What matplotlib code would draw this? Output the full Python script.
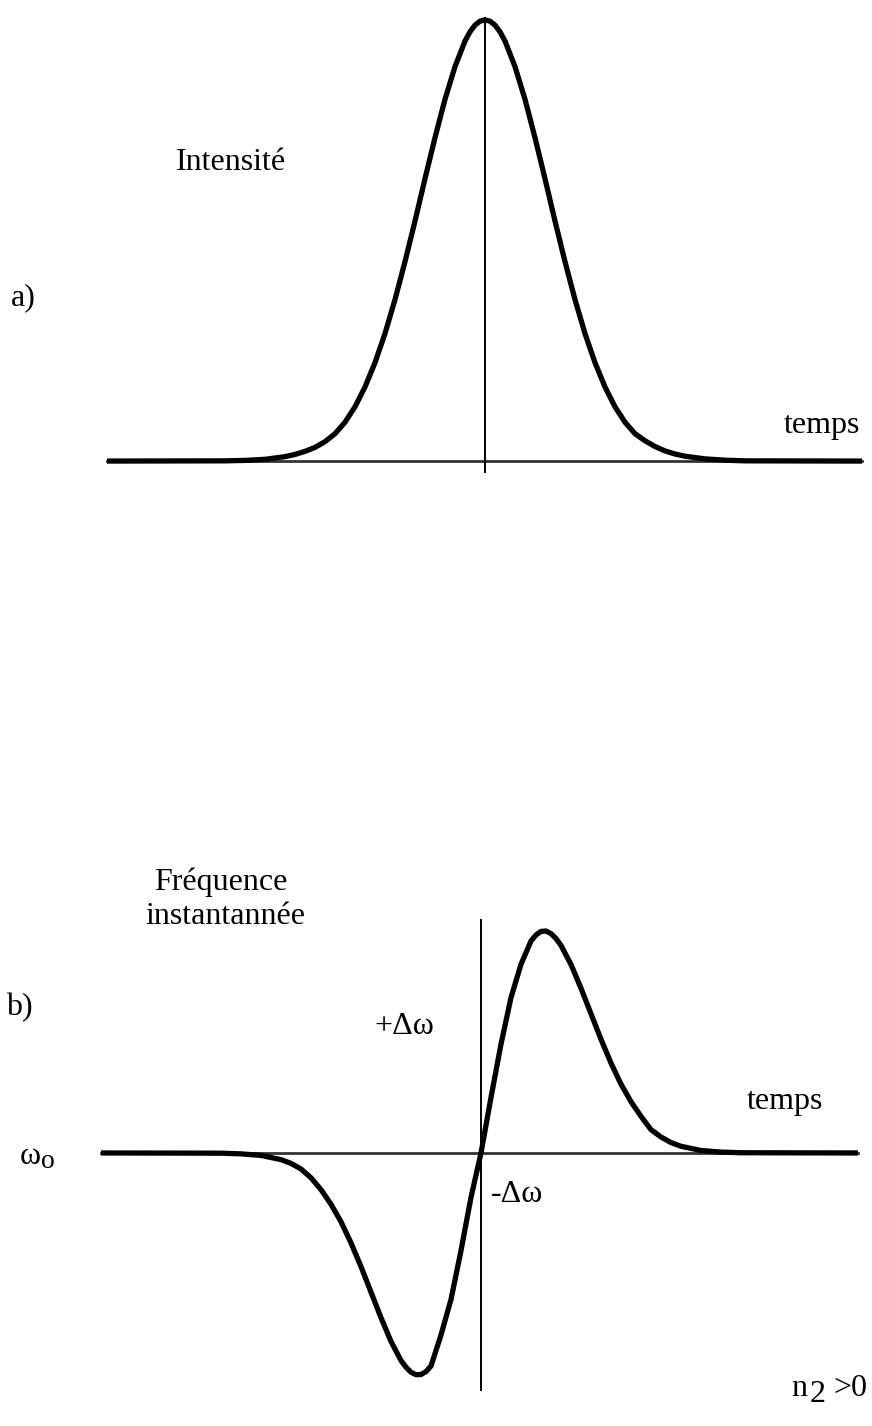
import numpy as np
import matplotlib
matplotlib.use('Agg')
import matplotlib.pyplot as plt

# a) intensity of the pulse (t in arbitrary time units)
t_int = [-3.78, -2.6, -2.4, -2.2, -2.0, -1.9, -1.8, -1.7, -1.6, -1.5,
         -1.4, -1.3, -1.2, -1.1, -1.0, -0.9, -0.8, -0.7, -0.6, -0.5,
         -0.4, -0.3, -0.2, -0.15, -0.1, -0.05, 0.0, 0.05, 0.1, 0.15, 0.2, 0.3, 0.4, 0.5,
         0.6, 0.7, 0.8, 0.9, 1.0, 1.1, 1.2, 1.3, 1.4, 1.5,
         1.6, 1.7, 1.8, 1.9, 2.0, 2.2, 2.4, 2.6, 3.77]
intensity = [0.0, 0.0005, 0.0015, 0.004, 0.010, 0.015, 0.022, 0.031, 0.044, 0.062,
             0.088, 0.123, 0.168, 0.223, 0.289, 0.366, 0.452, 0.544, 0.640, 0.733,
             0.820, 0.894, 0.952, 0.973, 0.988, 0.997, 1.0, 0.997, 0.988, 0.973, 0.952, 0.894, 0.820, 0.733,
             0.640, 0.544, 0.452, 0.366, 0.289, 0.223, 0.168, 0.123, 0.088, 0.062,
             0.046, 0.033, 0.023, 0.016, 0.011, 0.005, 0.002, 0.0005, 0.0]

# b) instantaneous frequency shift (n2 > 0)
t_freq = [-3.80, -2.6, -2.4, -2.2, -2.0, -1.9, -1.8, -1.7, -1.6, -1.5,
          -1.4, -1.3, -1.2, -1.1, -1.0, -0.9, -0.8, -0.75, -0.7, -0.65, -0.6, -0.55, -0.5,
          -0.4, -0.3, -0.2, -0.1, 0.0, 0.1, 0.2, 0.3, 0.4, 0.5, 0.55,
          0.6, 0.65, 0.7, 0.75, 0.8, 0.9, 1.0, 1.1, 1.2, 1.3, 1.4, 1.5,
          1.6, 1.7, 1.8, 1.9, 2.0, 2.2, 2.4, 2.6, 3.77]
freq = [0.0, -0.001, -0.004, -0.011, -0.030, -0.047, -0.072, -0.112, -0.165, -0.231,
        -0.310, -0.405, -0.512, -0.627, -0.742, -0.849, -0.935, -0.965, -0.988, -0.999, -0.998, -0.985, -0.960,
        -0.820, -0.660, -0.440, -0.200, 0.0, 0.250, 0.490, 0.700, 0.850, 0.955, 0.982,
        0.998, 1.0, 0.988, 0.966, 0.935, 0.849, 0.742, 0.627, 0.512, 0.405, 0.310, 0.231,
        0.165, 0.105, 0.072, 0.047, 0.030, 0.011, 0.004, 0.001, 0.0]

plt.rcParams['font.family'] = ['Liberation Serif', 'DejaVu Serif']

W, H = 872, 1426
fig = plt.figure(figsize=(W / 100, H / 100), dpi=100)

def px(x, y):
    return x / W, 1 - y / H

# panel a
ax1 = fig.add_axes([0, 0.5, 1, 0.5])
ax1.set_xlim(-4.85, 3.87)
ax1.set_ylim(-0.571, 1.045)
ax1.axis('off')
ax1.plot([-3.78, 3.77], [0, 0], color='#333333', lw=2)
ax1.plot([0, 0], [-0.025, 1.005], color='black', lw=1.4)
ax1.plot(t_int, intensity, color='black', lw=3.8, solid_capstyle='butt',
         solid_joinstyle='round')

# panel b
ax2 = fig.add_axes([0, 0, 1, 0.5])
ax2.set_xlim(-4.81, 3.91)
ax2.set_ylim(-1.230, 1.982)
ax2.axis('off')
ax2.plot([-3.80, 3.77], [0, 0], color='#333333', lw=2)
ax2.plot([0, 0], [-1.07, 1.05], color='black', lw=1.4)
ax2.plot(t_freq, freq, color='black', lw=3.8, solid_capstyle='butt',
         solid_joinstyle='round')

fs = 23
fig.text(*px(231, 163), 'Intensité', fontsize=fs, ha='center', va='center')
fig.text(*px(23, 298), 'a)', fontsize=fs, ha='center', va='center')
fig.text(*px(822, 425), 'temps', fontsize=fs, ha='center', va='center')

fig.text(*px(221, 882), 'Fréquence', fontsize=fs, ha='center', va='center')
fig.text(*px(225, 917), 'instantannée', fontsize=fs, ha='center', va='center')
fig.text(*px(19, 1008), 'b)', fontsize=fs, ha='center', va='center')
fig.text(*px(404, 1027), '+Δω', fontsize=fs, ha='center', va='center')
fig.text(*px(785, 1102), 'temps', fontsize=fs, ha='center', va='center')
fig.text(*px(517, 1195), '-Δω', fontsize=fs, ha='center', va='center')
fig.text(*px(30, 1157), 'ω', fontsize=fs, ha='center', va='center')
fig.text(*px(48, 1161), 'o', fontsize=fs - 3, ha='center', va='center')

fig.text(*px(799, 1388), 'n', fontsize=fs, ha='center', va='center')
fig.text(*px(818, 1394), '2', fontsize=fs, ha='center', va='center')
fig.text(*px(850, 1388), '>0', fontsize=fs, ha='center', va='center')

fig.savefig('out.png', dpi=100)
